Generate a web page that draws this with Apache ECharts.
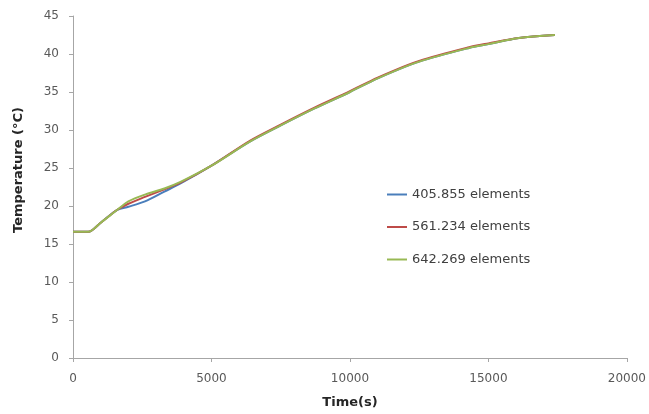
<!DOCTYPE html>
<html><head><meta charset="utf-8">
<script src="https://cdn.jsdelivr.net/npm/echarts@6/dist/echarts.min.js"></script>
<style>html,body{margin:0;padding:0;background:#fff}#c{width:649px;height:414px}</style>
</head><body><div id="c"></div>
<script>
const seriesNames = ['405.855 elements', '561.234 elements', '642.269 elements'];
const xTicks = [0, 5000, 10000, 15000, 20000];
const yTicks = [0, 5, 10, 15, 20, 25, 30, 35, 40, 45];
const startPts = [[0,16.6],[550,16.6],[1000,17.8],[1600,19.5]];
const bluePts = [[2000,19.9],[2600,20.6],[3300,21.9],[3900,23.0]];
const redPts = [[2000,20.3],[2600,21.2],[3300,22.2],[3900,23.1]];
const greenPts = [[2000,20.6],[2600,21.5],[3300,22.3],[3900,23.2]];
const endPts = [[5000,25.3],[6400,28.5],[7500,30.6],[8700,32.8],[10000,35.0],[11000,36.8],[12500,39.0],[14300,40.8],[15000,41.3],[16100,42.1],[17400,42.5]];
const redEndPts = [[5000,25.3],[6400,28.6],[7500,30.7],[8700,32.9],[10000,35.1],[11000,36.9],[12500,39.1],[14300,40.9],[15000,41.4],[16100,42.1],[17400,42.5]];

const colors = ['#4a7ebb', '#be4b48', '#98b954'];
const data = [
  startPts.concat(bluePts, endPts),
  startPts.concat(redPts, redEndPts),
  startPts.concat(greenPts, endPts)
];
const font = 'DejaVu Sans';
const chart = echarts.init(document.getElementById('c'));
chart.setOption({
  animation: false,
  textStyle: {fontFamily: font},
  grid: {left: 73, right: 21, top: 16, bottom: 54},
  legend: {
    orient: 'vertical', left: 382, top: 183, itemGap: 19.5,
    itemWidth: 20, itemHeight: 2, icon: 'rect',
    textStyle: {fontSize: 13, color: '#404040', fontFamily: font},
    data: seriesNames
  },
  xAxis: {
    type: 'value', min: xTicks[0], max: xTicks[xTicks.length-1], interval: 5000,
    name: 'Time(s)', nameLocation: 'middle', nameGap: 38,
    nameTextStyle: {fontWeight: 'bold', fontSize: 13, color: '#262626', fontFamily: font},
    axisLine: {lineStyle: {color: '#a6a6a6'}},
    axisTick: {show: true, length: 4, lineStyle: {color: '#a6a6a6'}},
    axisLabel: {color: '#595959', fontSize: 12, margin: 15, formatter: v => String(v)},
    splitLine: {show: false}
  },
  yAxis: {
    type: 'value', min: yTicks[0], max: yTicks[yTicks.length-1], interval: 5,
    name: 'Temperature (°C)', nameLocation: 'middle', nameGap: 48, nameRotate: 90,
    nameTextStyle: {fontWeight: 'bold', fontSize: 13, color: '#262626', fontFamily: font, padding: [0, 0, 0, 34]},
    axisLine: {show: true, lineStyle: {color: '#a6a6a6'}},
    axisTick: {show: true, length: 4, lineStyle: {color: '#a6a6a6'}},
    axisLabel: {color: '#595959', fontSize: 12, margin: 14, formatter: v => String(v)},
    splitLine: {show: false}
  },
  series: seriesNames.map((n, i) => ({
    name: n, type: 'line', data: data[i], showSymbol: false, smooth: 0.3,
    lineStyle: {width: 2, color: colors[i]}, itemStyle: {color: colors[i]}
  }))
});
</script></body></html>
